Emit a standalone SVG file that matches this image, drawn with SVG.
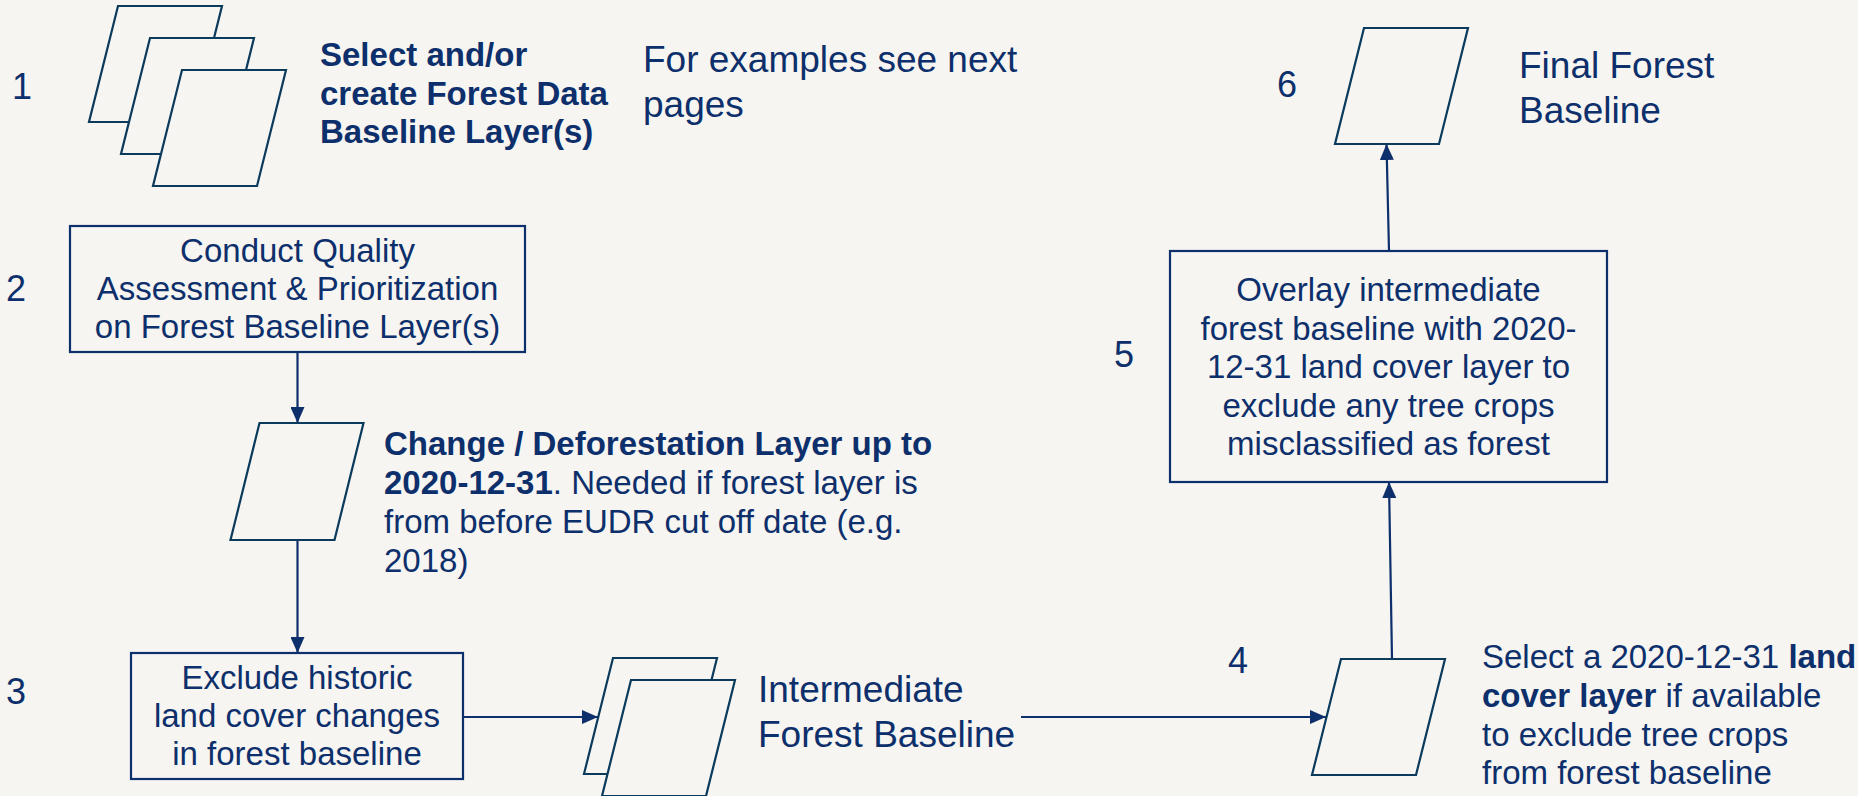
<svg xmlns="http://www.w3.org/2000/svg" width="1858" height="796" viewBox="0 0 1858 796">
<defs>
<style>
.bg{fill:#f6f5f1}
.box{fill:#f6f5f1;stroke:#0d2f6b;stroke-width:2.2}
.par{fill:#f6f5f1;stroke:#0a3b5c;stroke-width:2.2}
.t{font-family:"Liberation Sans",Arial,sans-serif;fill:#0d2f6b}
.lg{font-size:37px}
.md{font-size:33px}
.num{font-size:36px}
.b{font-weight:bold}
.c{text-anchor:middle}
.ln{stroke:#0d2f6b;stroke-width:2.2;fill:none;marker-end:url(#ah)}
</style>
<marker id="ah" markerUnits="userSpaceOnUse" markerWidth="16" markerHeight="14" refX="16" refY="7" orient="auto">
<path d="M0,0 L16,7 L0,14 z" fill="#0d2f6b"/>
</marker>
</defs>
<rect class="bg" x="0" y="0" width="1858" height="796"/>

<g id="connectors">
<line class="ln" x1="297.5" y1="352" x2="297.5" y2="423"/>
<line class="ln" x1="297.5" y1="540" x2="297.5" y2="653"/>
<line class="ln" x1="463" y1="717" x2="598" y2="717"/>
<line class="ln" x1="1021" y1="717" x2="1326" y2="717"/>
<line class="ln" x1="1392" y1="659" x2="1389" y2="482"/>
<line class="ln" x1="1389" y1="251" x2="1386.5" y2="144"/>
</g>

<g id="n1">
<text class="t num" x="12" y="99">1</text>
<polygon class="par" points="118,6 222,6 193,122 89,122"/>
<polygon class="par" points="150,38 254,38 225,154 121,154"/>
<polygon class="par" points="182,70 286,70 257,186 153,186"/>
<text class="t md b" x="320" y="66">Select and/or</text>
<text class="t md b" x="320" y="104.5">create Forest Data</text>
<text class="t md b" x="320" y="143">Baseline Layer(s)</text>
<text class="t lg" x="643" y="72">For examples see next</text>
<text class="t lg" x="643" y="117">pages</text>
</g>

<g id="n2">
<text class="t num" x="6" y="301">2</text>
<rect class="box" x="70" y="226" width="455" height="126"/>
<text class="t md c" x="297.5" y="262">Conduct Quality</text>
<text class="t md c" x="297.5" y="300">Assessment &amp; Prioritization</text>
<text class="t md c" x="297.5" y="338">on Forest Baseline Layer(s)</text>
</g>

<g id="n-change">
<polygon class="par" points="259.5,423 363.5,423 334.5,540 230.5,540"/>
<text class="t md" x="384" y="455"><tspan class="b">Change / Deforestation Layer up to</tspan></text>
<text class="t md" x="384" y="494"><tspan class="b">2020-12-31</tspan>. Needed if forest layer is</text>
<text class="t md" x="384" y="533">from before EUDR cut off date (e.g.</text>
<text class="t md" x="384" y="572">2018)</text>
</g>

<g id="n3">
<text class="t num" x="6" y="704">3</text>
<rect class="box" x="131" y="653" width="332" height="126"/>
<text class="t md c" x="297" y="689">Exclude historic</text>
<text class="t md c" x="297" y="727">land cover changes</text>
<text class="t md c" x="297" y="765">in forest baseline</text>
</g>

<g id="n-intermediate">
<polygon class="par" points="613,658 717,658 688,774 584,774"/>
<polygon class="par" points="631,680 735,680 706,796 602,796"/>
<text class="t lg" x="758" y="702">Intermediate</text>
<text class="t lg" x="758" y="747">Forest Baseline</text>
</g>

<g id="n4">
<text class="t num" x="1228" y="673">4</text>
<polygon class="par" points="1341,659 1445,659 1416,775 1312,775"/>
<text class="t md" x="1482" y="668">Select a 2020-12-31 <tspan class="b">land</tspan></text>
<text class="t md" x="1482" y="707"><tspan class="b">cover layer</tspan> if available</text>
<text class="t md" x="1482" y="746">to exclude tree crops</text>
<text class="t md" x="1482" y="784">from forest baseline</text>
</g>

<g id="n5">
<text class="t num" x="1114" y="367">5</text>
<rect class="box" x="1170" y="251" width="437" height="231"/>
<text class="t md c" x="1388.5" y="301">Overlay intermediate</text>
<text class="t md c" x="1388.5" y="339.5">forest baseline with 2020-</text>
<text class="t md c" x="1388.5" y="378">12-31 land cover layer to</text>
<text class="t md c" x="1388.5" y="416.5">exclude any tree crops</text>
<text class="t md c" x="1388.5" y="455">misclassified as forest</text>
</g>

<g id="n6">
<text class="t num" x="1277" y="97">6</text>
<polygon class="par" points="1364,28 1468,28 1439,144 1335,144"/>
<text class="t lg" x="1519" y="78">Final Forest</text>
<text class="t lg" x="1519" y="123">Baseline</text>
</g>
</svg>
